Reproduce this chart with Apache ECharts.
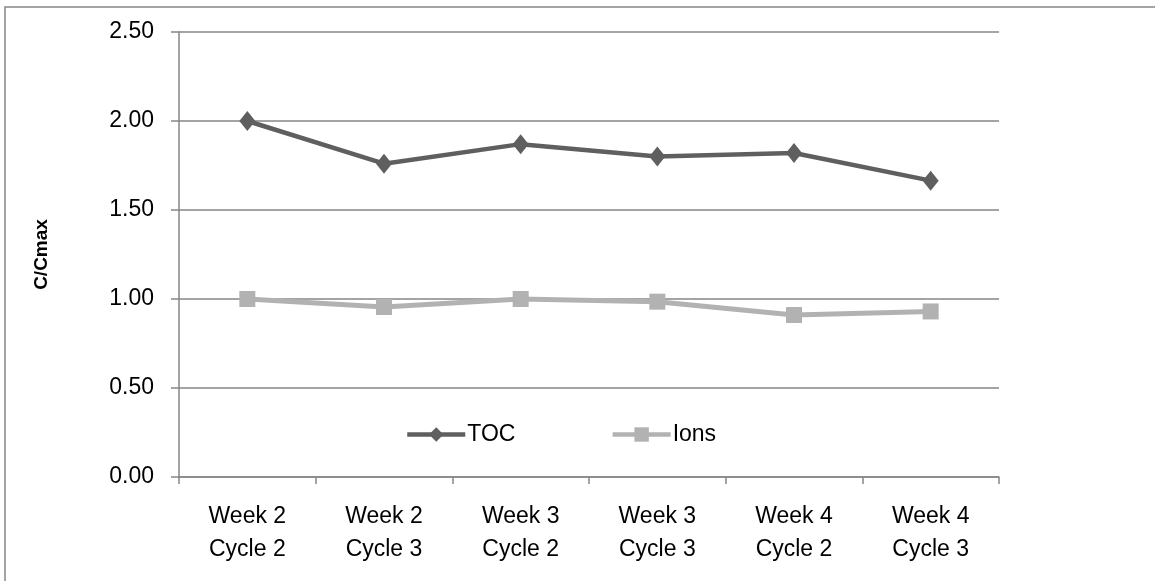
<!DOCTYPE html>
<html>
<head>
<meta charset="utf-8">
<script src="https://cdn.jsdelivr.net/npm/echarts@6/dist/echarts.min.js"></script>
<style>html,body{margin:0;padding:0;background:#fff;}#chart{width:1155px;height:581px;}</style>
</head>
<body>
<div id="chart"></div>
<script>
const categories = ['Week 2\nCycle 2', 'Week 2\nCycle 3', 'Week 3\nCycle 2', 'Week 3\nCycle 3', 'Week 4\nCycle 2', 'Week 4\nCycle 3'];
const tocValues = [2.00, 1.76, 1.87, 1.80, 1.82, 1.665];
const ionsValues = [1.00, 0.955, 1.00, 0.985, 0.91, 0.93];
const yAxisTitle = 'C/Cmax';

const FONT = 'Liberation Sans';
const chart = echarts.init(document.getElementById('chart'), null, {renderer: 'canvas'});
chart.setOption({
  animation: false,
  backgroundColor: '#ffffff',
  textStyle: {fontFamily: FONT},
  graphic: [{
    type: 'rect', shape: {x: 5, y: 7, width: 1200, height: 620},
    style: {fill: 'none', stroke: '#868686', lineWidth: 1.5}, silent: true, z: -1
  }],
  grid: {left: 179, right: 156, top: 32, bottom: 104},
  legend: {
    left: 400, top: 418,
    itemWidth: 58, itemHeight: 18, itemGap: 95,
    lineStyle: {width: 4.5},
    textStyle: {fontFamily: FONT, fontSize: 23, color: '#000', padding: [0, 0, 0, -3]},
    data: ['TOC', 'Ions']
  },
  xAxis: {
    type: 'category', data: categories, boundaryGap: true,
    axisLine: {lineStyle: {color: '#868686', width: 1.5}},
    axisTick: {show: true, length: 7, lineStyle: {color: '#868686', width: 1.5}},
    axisLabel: {fontFamily: FONT, fontSize: 23, color: '#000', margin: 23, lineHeight: 33, interval: 0},
    splitLine: {show: false}
  },
  yAxis: {
    type: 'value', min: 0, max: 2.5, interval: 0.5,
    name: yAxisTitle, nameLocation: 'middle', nameGap: 128, nameRotate: 90,
    nameTextStyle: {fontFamily: FONT, fontSize: 19, fontWeight: 'bold', color: '#000'},
    axisLine: {show: true, lineStyle: {color: '#868686', width: 1.5}},
    axisTick: {show: true, length: 8, lineStyle: {color: '#868686', width: 1.5}},
    axisLabel: {fontFamily: FONT, fontSize: 23, color: '#000', margin: 25, formatter: v => v.toFixed(2)},
    splitLine: {show: true, lineStyle: {color: '#868686', width: 1.5}}
  },
  series: [
    {
      name: 'TOC', type: 'line', data: tocValues,
      symbol: 'diamond', symbolSize: [16, 20],
      lineStyle: {color: '#5f5f5f', width: 4.5},
      itemStyle: {color: '#5f5f5f'}
    },
    {
      name: 'Ions', type: 'line', data: ionsValues,
      symbol: 'rect', symbolSize: 16,
      lineStyle: {color: '#b2b2b2', width: 5},
      itemStyle: {color: '#b2b2b2'}
    }
  ]
});
</script>
</body>
</html>
